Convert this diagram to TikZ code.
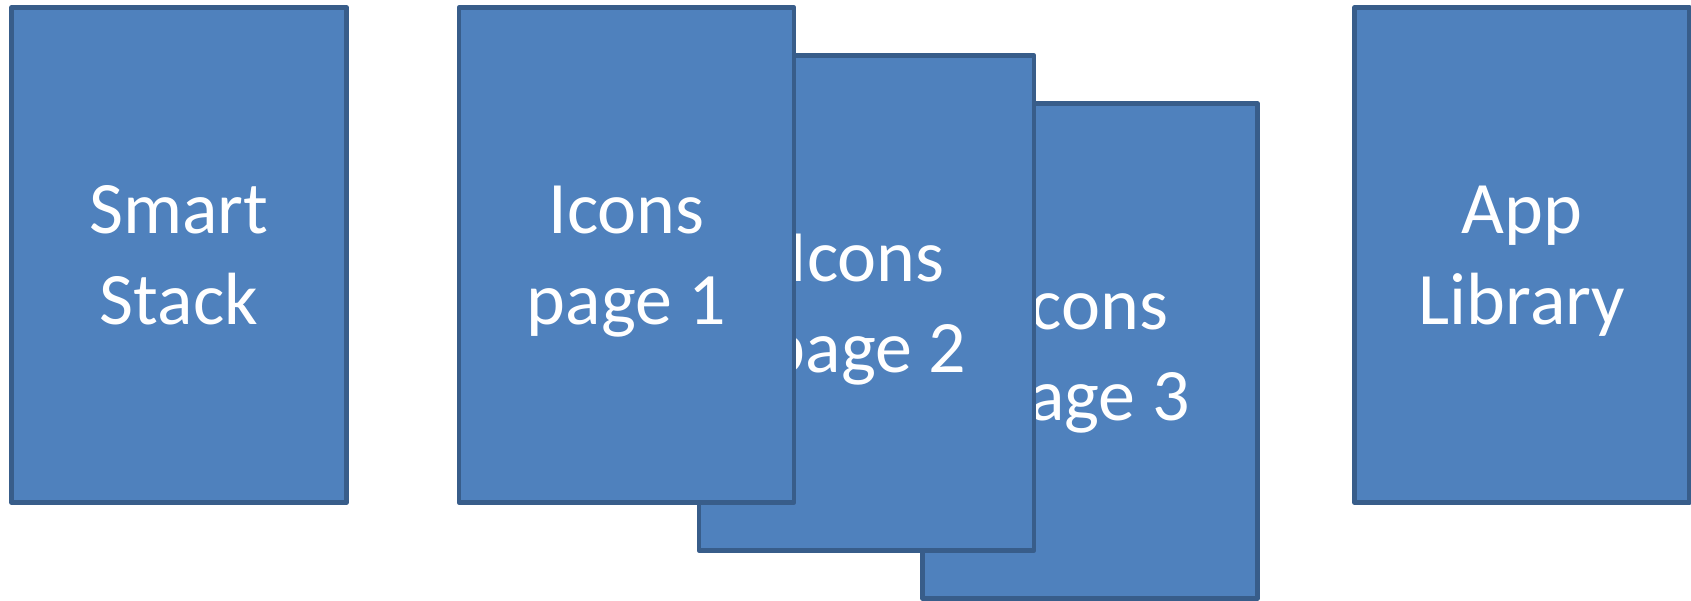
\documentclass[tikz,border=0pt]{standalone}
\usepackage{fontspec}
\setmainfont{Carlito}
\usetikzlibrary{positioning}

\definecolor{pagefill}{HTML}{4F81BD}
\definecolor{pageline}{HTML}{385D8A}

\begin{document}
\begin{tikzpicture}
[
x=0.5pt, y=-0.5pt,
screennode/.style={rectangle, draw=pageline, fill=pagefill, line width=2.3pt, line join=round,
  minimum width=167.5pt, minimum height=247.5pt, inner sep=0pt, align=center, text=white,
  text depth=0pt, font=\fontsize{37}{45.5}\selectfont},
]
\useasboundingbox (0,0) rectangle (1691,600);
%Nodes
\node[screennode] (smart) at (179,255) {Smart\\Stack};
\node[screennode] (page3) at (1090,351) {Icons\\page 3};
\node[screennode] (page2) at (866.5,303) {Icons\\page 2};
\node[screennode] (page1) at (626.5,255) {Icons\\page 1};
\node[screennode] (applib) at (1522,255) {App\\Library};
\end{tikzpicture}
\end{document}
